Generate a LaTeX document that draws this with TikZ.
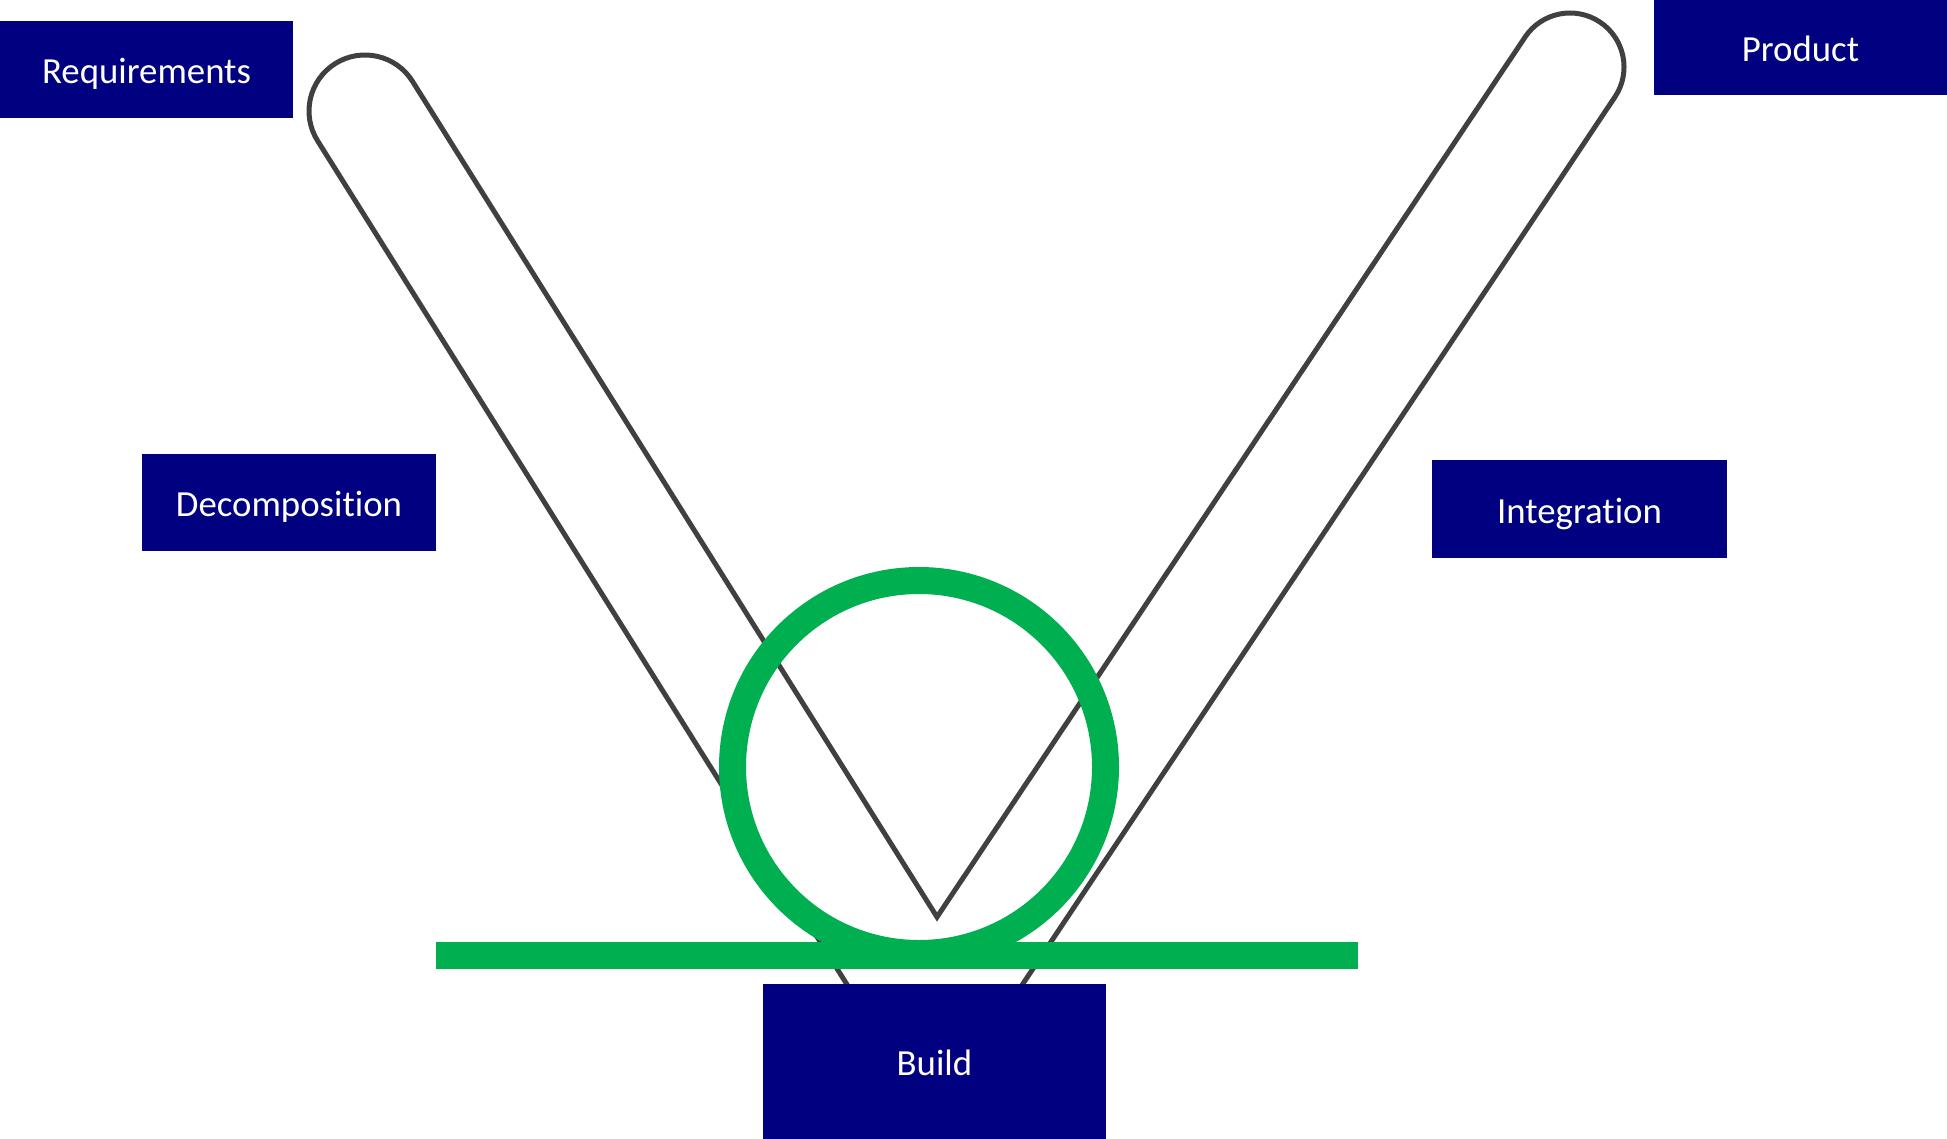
\documentclass[tikz,border=0pt]{standalone}
\usepackage{fontspec}
\setmainfont[Ligatures=NoCommon]{Carlito}
\usetikzlibrary{positioning}
\definecolor{phasenavy}{HTML}{000080}
\definecolor{loopgreen}{HTML}{00B050}
\definecolor{tubegray}{HTML}{404040}

\begin{document}
\begin{tikzpicture}[x=0.5pt, y=-0.5pt,
  phase/.style={fill=phasenavy, text=white, inner sep=0pt, text height=14pt, text depth=0pt,
    font=\fontsize{18.4}{22}\selectfont},
  tube/.style={draw=tubegray, line width=2.5pt, line join=miter}]
\useasboundingbox (0,0) rectangle (1947,1139);

% The V outline with its two rounded ends
\coordinate (leftEnd) at (365,111);
\coordinate (rightEnd) at (1570,67);
\draw[tube] (937,917) -- ([shift={(-32.1:56)}]leftEnd)
  arc[start angle=-32.1, end angle=-212.1, radius=56]
  -- (932,1120) -- ([shift={(33.7:54)}]rightEnd)
  arc[start angle=33.7, end angle=-146.3, radius=54] -- cycle;

% Green loop and baseline
\draw[loopgreen, line width=13.5pt] (919,767) circle[radius=186.5];
\fill[loopgreen] (436,942) rectangle (1358,969);

% Phase labels
\node[phase, minimum width=146.5pt, minimum height=48.5pt] (req) at (146.5,69.5) {Requirements};
\node[phase, minimum width=147pt, minimum height=48.5pt] (decomp) at (289,502.5) {Decomposition};
\node[phase, minimum width=171.5pt, minimum height=77.5pt] (build) at (934.5,1061.5) {Build};
\node[phase, minimum width=147.5pt, minimum height=49pt] (integ) at (1579.5,509) {Integration};
\node[phase, minimum width=146.5pt, minimum height=47.5pt] (product) at (1800.5,47.5) {Product};

\end{tikzpicture}
\end{document}
